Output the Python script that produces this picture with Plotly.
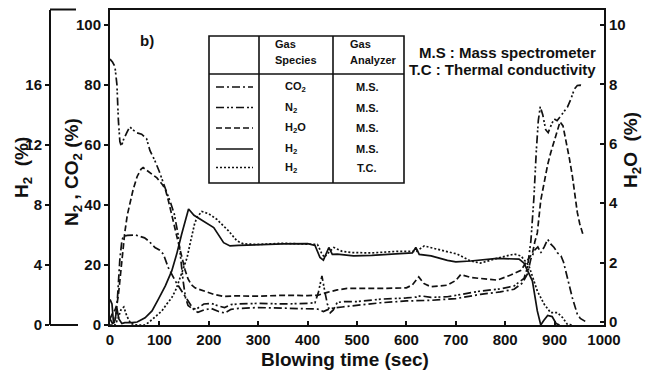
import plotly.graph_objects as go

# ---- gas composition during blowing ----
t_co2 = [0, 5, 10, 14, 17, 20, 24, 27, 35, 51, 60, 70, 78, 91, 100, 108, 118, 132, 145, 159,
         170, 178, 190, 205, 220, 232, 245, 260, 300, 350, 400, 420, 432, 446, 470, 500, 548, 600, 650, 700,
         750, 790, 818, 835, 845, 852, 860, 866, 872, 879, 886, 892, 899, 906, 913, 918, 923, 930, 936, 941,
         946, 952, 958, 962]
co2 = [2, 0.5, 1, 6, 14, 22, 28, 29.5, 29.8, 30, 29.5, 29, 28, 25.8, 25, 23.6, 19.1, 14.7, 11.3, 8,
       5, 4.2, 5, 5.5, 4.5, 4, 5.2, 5.5, 5.8, 5.6, 5.5, 5.3, 4.5, 5.5, 6, 6.5, 7.4, 8, 8.2, 8.8,
       10.2, 11, 11.9, 14, 17, 22, 25, 26, 24, 26, 28.5, 27, 25.8, 24, 23, 21, 18, 13, 9, 6,
       3.6, 2.2, 1.5, 1.2]

t_n2 = [0, 5, 10, 14, 17, 20, 23, 28, 34, 40, 46, 54, 64, 74, 81, 90, 100, 108, 115, 122,
        130, 138, 143, 148, 153, 158, 166, 175, 190, 205, 220, 232, 245, 260, 300, 350, 400, 415, 422, 429,
        435, 440, 446, 452, 460, 475, 500, 548, 600, 620, 629, 640, 650, 683, 720, 750, 790, 818, 838, 845,
        852, 858, 863, 867, 871, 876, 882, 887, 893, 899, 905, 912, 919, 926, 933, 940, 946, 952, 958]
n2 = [88.5, 87.5, 86, 80, 68, 61, 59.5, 62, 64, 66, 65, 64, 63.5, 62, 58, 55, 51, 47, 44, 41,
      37, 30, 22, 14.7, 9, 6.5, 5.5, 5.3, 7, 7.2, 6.3, 5.8, 6.8, 7, 7.2, 7, 7.2, 7.4, 11, 16.3,
      11, 7, 4.1, 5, 7.5, 7.8, 7.8, 8.6, 9, 9.3, 9.7, 9.4, 9.2, 9.4, 10.5, 11.3, 12, 13, 15.5, 19,
      28, 42, 58, 68, 72.7, 70, 65, 64, 66.5, 68.6, 68, 69.5, 70.8, 72.5, 75.2, 78.5, 79.7, 79.8, 79.5]

t_h2o = [0, 5, 10, 14, 17, 20, 24, 27, 30, 35, 41, 47, 55, 63, 67, 75, 85, 95, 105, 112,
         118, 122, 128, 135, 140, 145, 152, 158, 165, 172, 189, 210, 230, 250, 300, 350, 400, 420, 440, 460,
         480, 520, 548, 600, 612, 625, 635, 649, 683, 700, 710, 730, 750, 784, 811, 832, 845, 855, 860, 865,
         872, 880, 886, 892, 899, 906, 911, 917, 923, 930, 936, 941, 946, 951, 957, 961]
h2o = [0.1, 0.3, 0.4, 0.6, 0.91, 1.4, 2.02, 2.5, 3.02, 3.6, 4.02, 4.47, 4.9, 5.15, 5.2, 5.1, 5.0, 4.85, 4.65, 4.47,
       4.1, 3.85, 3.4, 2.9, 2.55, 2.2, 1.75, 1.45, 1.25, 1.15, 1.05, 0.93, 0.86, 0.88, 0.87, 0.9, 0.89, 0.9, 1.0, 1.08,
       1.13, 1.12, 1.13, 1.15, 1.25, 1.52, 1.3, 1.19, 1.24, 1.4, 1.6, 1.5, 1.47, 1.41, 1.58, 1.74, 2.08, 2.3, 2.7, 3.0,
       4.1, 4.8, 5.3, 5.69, 6.1, 6.47, 6.74, 6.6, 6.13, 5.5, 4.91, 4.3, 3.69, 3.3, 2.97, 2.9]

t_h2_ms = [0, 4, 7, 10, 14, 18, 24, 30, 45, 55, 71, 85, 98, 112, 125, 135, 145, 156, 159, 170,
           185, 210, 230, 243, 260, 300, 350, 400, 415, 425, 432, 443, 450, 460, 493, 530, 568, 600, 612, 619,
           626, 650, 683, 700, 730, 784, 828, 838, 855, 865, 872, 878, 886, 895, 903, 910]
h2_ms = [1.7, 1.4, 0.2, 0.3, 1.1, 0.4, 0.1, 0.16, 0.16, 0.2, 0.48, 0.94, 1.72, 2.6, 3.6, 4.72, 6.04, 7.38, 7.72, 7.3,
         7.0, 6.48, 5.48, 5.26, 5.3, 5.36, 5.4, 5.42, 5.3, 4.5, 4.32, 5.16, 4.7, 4.72, 4.6, 4.64, 4.72, 4.76, 4.8, 5.16,
         4.7, 4.6, 4.3, 4.2, 4.26, 4.44, 4.38, 4.12, 2.94, 0.94, 0, 0.3, 0.64, 0.56, 0.1, 0]

t_h2_tc = [0, 10, 16, 22, 28, 34, 42, 55, 70, 78, 90, 105, 115, 125, 134, 142, 150, 156, 162, 166,
           171, 176, 186, 200, 216, 240, 257, 270, 300, 350, 400, 420, 428, 434, 442, 453, 470, 490, 530, 580,
           620, 636, 663, 703, 730, 750, 784, 818, 832, 848, 865, 879, 892, 906, 916, 926, 935]
h2_tc = [0, 0, 0.4, 1.0, 1.2, 0.6, 0.1, 0, 0, 0.16, 0.5, 0.94, 1.4, 1.82, 2.4, 3.16, 3.9, 4.48, 5.4, 6.04,
         6.7, 7.16, 7.56, 7.4, 7.04, 6.26, 5.6, 5.4, 5.36, 5.44, 5.4, 5.36, 4.8, 4.5, 4.8, 5.16, 4.9, 4.82, 4.8, 4.9,
         4.9, 5.26, 5.04, 4.72, 4.26, 4.12, 4.44, 4.72, 4.6, 3.94, 2.26, 1.38, 0.82, 0.82, 0.5, 0.04, 0]

x_ticks = list(range(0, 1001, 100))
left_ticks = list(range(0, 101, 20))
h2_ticks = list(range(0, 17, 4))
h2o_ticks = list(range(0, 11, 2))

legend_rows = [
    ("CO<sub>2</sub>", "M.S."),
    ("N<sub>2</sub>", "M.S."),
    ("H<sub>2</sub>O", "M.S."),
    ("H<sub>2</sub>", "M.S."),
    ("H<sub>2</sub>", "T.C."),
]

# ---- styling ----
W, H = 645, 371
FONT = "Liberation Sans, Arial, sans-serif"
INK = "#111111"
DASH_CO2 = "8px,3px,2px,3px"
DASH_N2 = "8px,3px,2px,2px,2px,3px"
DASH_H2O = "6px,3px"
DASH_TC = "2px,2px"
row_styles = [DASH_CO2, DASH_N2, DASH_H2O, "solid", DASH_TC]


def px(x):
    return x / W


def py(y):
    return 1 - y / H


x0, x1 = 110, 604
ytop, ybot = 9.5, 325
x_dom = [px(x0), px(x1)]
y_dom = [py(ybot), py(ytop)]

fig = go.Figure()


def add_line(t, v, axis, dash):
    fig.add_trace(go.Scatter(x=t, y=v, yaxis=axis, mode="lines",
                             line=dict(color=INK, width=1.7, dash=dash),
                             hoverinfo="skip", showlegend=False))


add_line(t_co2, co2, "y", DASH_CO2)
add_line(t_n2, n2, "y", DASH_N2)
add_line(t_h2o, h2o, "y2", DASH_H2O)
add_line(t_h2_ms, h2_ms, "y3", "solid")
add_line(t_h2_tc, h2_tc, "y3", DASH_TC)

tickfont = dict(family=FONT, size=15, color=INK, weight="bold")
common = dict(showgrid=False, zeroline=False, showline=True, linecolor=INK, linewidth=2,
              tickcolor=INK, ticklen=4, tickwidth=1.5, tickfont=tickfont, automargin=False)

fig.update_layout(
    width=W, height=H,
    margin=dict(l=0, r=0, t=0, b=0),
    paper_bgcolor="white", plot_bgcolor="white",
    showlegend=False,
    xaxis=dict(domain=x_dom, range=[0, 1000], tickvals=x_ticks, ticks="inside",
               mirror=True, anchor="y", **common),
    yaxis=dict(domain=y_dom, range=[0, 105], tickvals=left_ticks, ticks="outside", **common),
    yaxis2=dict(domain=y_dom, range=[-0.1, 10.52], tickvals=h2o_ticks, ticks="inside",
                overlaying="y", side="right", anchor="x", **common),
    yaxis3=dict(domain=y_dom, range=[0, 21], tickvals=h2_ticks, ticks="outside",
                overlaying="y", side="left", anchor="free", position=px(50), **common),
)

shapes = []
# caps of the separate H2 scale
shapes.append(dict(type="line", xref="paper", yref="paper", x0=px(50), x1=px(76), y0=py(ytop), y1=py(ytop),
                   line=dict(color=INK, width=2)))
shapes.append(dict(type="line", xref="paper", yref="paper", x0=px(50), x1=px(78), y0=py(ybot), y1=py(ybot),
                   line=dict(color=INK, width=2)))

# legend table
tl, tr, tt, tb = 209, 404, 36, 183
shapes.append(dict(type="rect", xref="paper", yref="paper", x0=px(tl), x1=px(tr), y0=py(tb), y1=py(tt),
                   line=dict(color=INK, width=1.6), fillcolor="white", layer="above"))
shapes.append(dict(type="line", xref="paper", yref="paper", x0=px(tl), x1=px(tr), y0=py(74), y1=py(74),
                   line=dict(color=INK, width=1.6), layer="above"))
for cx in (259, 333):
    shapes.append(dict(type="line", xref="paper", yref="paper", x0=px(cx), x1=px(cx), y0=py(tb), y1=py(tt),
                       line=dict(color=INK, width=1.6), layer="above"))

row_y = [87, 107.5, 128, 149, 167.5]
for ry, style in zip(row_y, row_styles):
    shapes.append(dict(type="line", xref="paper", yref="paper", x0=px(216), x1=px(253), y0=py(ry), y1=py(ry),
                       line=dict(color=INK, width=1.6, dash=style), layer="above"))

annotations = []


def note(text, x, y, size, xanchor="center", angle=0, bold=True):
    annotations.append(dict(text=text, x=px(x), y=py(y), xref="paper", yref="paper",
                            xanchor=xanchor, yanchor="middle", showarrow=False, textangle=angle,
                            font=dict(family=FONT, size=size, color=INK, weight="bold" if bold else "normal")))


note("Gas", 273, 44, 11, "left")
note("Species", 273, 60, 11, "left")
note("Gas", 348, 44, 11, "left")
note("Analyzer", 348, 60, 11, "left")
for ry, (species, analyzer) in zip(row_y, legend_rows):
    note(species, 283, ry, 11, "left")
    note(analyzer, 367, ry, 11, "center")

note("M.S : Mass spectrometer", 598, 52, 15, "right")
note("T.C : Thermal conductivity", 598, 70, 15, "right")
note("b)", 147, 40, 15)

note("Blowing time (sec)", 345, 359, 19)
note("N<sub>2</sub> , CO<sub>2</sub> (%)", 73, 172, 19, angle=-90)
note("H<sub>2</sub>  (%)", 23, 168, 19, angle=-90)
note("H<sub>2</sub>O  (%)", 632, 150, 19, angle=-90)

fig.update_layout(shapes=shapes, annotations=annotations)

fig.write_html("out.html")
